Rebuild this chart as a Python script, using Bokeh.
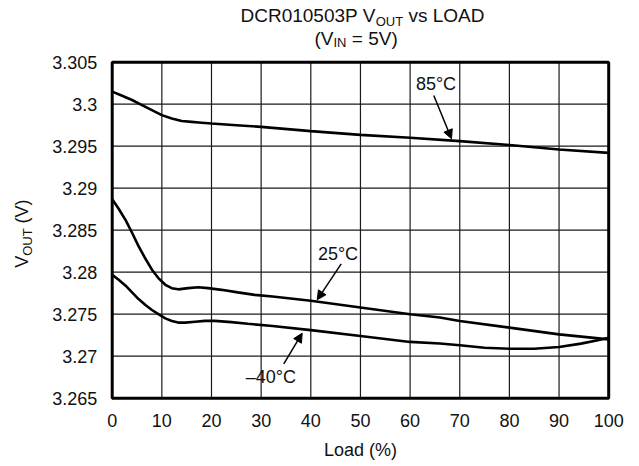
import math
from bokeh.plotting import figure
from bokeh.models import Range1d, FixedTicker, Label, Arrow, NormalHead, LinearAxis
from bokeh.embed import file_html
from bokeh.resources import INLINE

# ---- data ----
x_85 = [0, 2, 4, 6, 8, 10, 12, 14, 16, 18, 20, 25, 30, 40, 50, 60, 70, 80, 90, 100]
y_85 = [3.3015, 3.3010, 3.3005, 3.2999, 3.2993, 3.2987, 3.2983, 3.2980, 3.2979, 3.2978,
        3.2977, 3.2975, 3.2973, 3.2968, 3.29635, 3.2960, 3.2956, 3.29515, 3.2946, 3.2942]

x_25 = [0, 1.3, 2.7, 4, 5.3, 6.7, 8, 9.3, 10.7, 12, 13.3, 15.3, 17.3, 19.3, 22, 25.3,
        28.7, 32.3, 40, 50, 60, 66, 70, 80, 90, 100]
y_25 = [3.2887, 3.28755, 3.2862, 3.2847, 3.2831, 3.2816, 3.2803, 3.2793, 3.2785, 3.2781,
        3.27796, 3.2781, 3.2782, 3.2781, 3.2779, 3.2776, 3.2773, 3.2771, 3.2766, 3.2758,
        3.2750, 3.2746, 3.2742, 3.2734, 3.2726, 3.2720]

x_m40 = [0, 1.3, 2.7, 4, 5.3, 6.7, 8, 9.3, 10.7, 12, 13.3, 14.7, 16.7, 18.7, 20.7, 24,
         27.3, 32.3, 40, 50, 60, 66, 70, 75, 80, 85, 90, 94.4, 97.8, 100]
y_m40 = [3.2797, 3.2791, 3.2784, 3.2776, 3.2768, 3.2761, 3.2755, 3.2750, 3.2745, 3.2742,
         3.2740, 3.2740, 3.2741, 3.2742, 3.2742, 3.27406, 3.27386, 3.2736, 3.2731, 3.2724,
         3.2717, 3.27152, 3.2713, 3.2710, 3.27088, 3.27088, 3.2711, 3.2715, 3.2719, 3.2722]

x_ticks = [0, 10, 20, 30, 40, 50, 60, 70, 80, 90, 100]
y_ticks = [3.265, 3.27, 3.275, 3.28, 3.285, 3.29, 3.295, 3.3, 3.305]
y_tick_labels = ["3.265", "3.27", "3.275", "3.28", "3.285", "3.29", "3.295", "3.3", "3.305"]

FONT = "Liberation Sans"
TXT = "#111111"

# ---- layout: the frame covers the whole canvas; the plot box sits inside it ----
W, H = 631, 464
BOX_L, BOX_R, BOX_T, BOX_B = 111.7, 608.2, 61.7, 397.7   # plot box in pixels
xmin, xmax = x_ticks[0], x_ticks[-1]
ymin, ymax = y_ticks[0], y_ticks[-1]
kx = (BOX_R - BOX_L) / (xmax - xmin)
ky = (BOX_B - BOX_T) / (ymax - ymin)

def dx(px):
    return xmin + (px - BOX_L) / kx

def dy(py):
    return ymax - (py - BOX_T) / ky

p = figure(frame_width=W, frame_height=H, min_border=0,
           x_range=Range1d(dx(0), dx(W)), y_range=Range1d(dy(H), dy(0)),
           x_axis_location=None, y_axis_location=None,
           output_backend="svg", toolbar_location=None, title=None)
p.outline_line_color = None
p.background_fill_color = "white"
p.border_fill_color = "white"
p.xgrid.visible = False
p.ygrid.visible = False

# grid lines at the tick values
p.segment(x0=x_ticks, x1=x_ticks, y0=[ymin] * len(x_ticks), y1=[ymax] * len(x_ticks),
          line_color="#1a1a1a", line_width=1.2)
p.segment(x0=[xmin] * len(y_ticks), x1=[xmax] * len(y_ticks), y0=y_ticks, y1=y_ticks,
          line_color="#1a1a1a", line_width=1.2)

# axes fixed at the plot box edges
xaxis = LinearAxis(fixed_location=ymin, bounds=(xmin, xmax), ticker=FixedTicker(ticks=x_ticks))
yaxis = LinearAxis(fixed_location=xmin, bounds=(ymin, ymax), ticker=FixedTicker(ticks=y_ticks))
yaxis.major_label_overrides = dict(zip(y_ticks, y_tick_labels))
xaxis.major_label_standoff = 16
yaxis.major_label_standoff = 15
for ax in (xaxis, yaxis):
    ax.axis_line_color = None
    ax.major_tick_in = 0
    ax.major_tick_out = 0
    ax.minor_tick_line_color = None
    ax.major_label_text_font = FONT
    ax.major_label_text_font_size = "18px"
    ax.major_label_text_color = TXT
p.add_layout(xaxis, "below")
p.add_layout(yaxis, "left")

# curves
for xs, ys in ((x_85, y_85), (x_25, y_25), (x_m40, y_m40)):
    p.line(xs, ys, line_color="black", line_width=2.6)

# plot box border
p.quad(left=[xmin], right=[xmax], bottom=[ymin], top=[ymax],
       fill_color=None, line_color="black", line_width=3)

def lab(px, py, text, size="18px", align="left", angle=0.0):
    # (px, py): left/centre of the text and the middle of its capitals, in pixels
    p.add_layout(Label(x=dx(px), y=dy(py), text=text, text_font=FONT, text_font_size=size,
                       text_color=TXT, text_align=align, text_baseline="middle",
                       angle=angle))

# title (two lines with subscripts)
lab(240.0, 15.0, "DCR010503P V", "19px")
lab(375.2, 21.3, "OUT", "13px")
lab(407.9, 15.0, "vs LOAD", "19px")
lab(314.0, 37.5, "(V", "19px")
lab(333.0, 42.2, "IN", "13px")
lab(351.3, 37.5, "= 5V)", "19px")

# y-axis label (rotated, with subscript)
lab(21.3, 267.3, "V", "18px", angle=math.pi / 2)
lab(26.7, 255.3, "OUT", "13px", angle=math.pi / 2)
lab(21.3, 222.9, "(V)", "18px", angle=math.pi / 2)

# x-axis label
lab(360.0, 449.7, "Load (%)", "18px", align="center")

# curve labels and arrows
lab(435.5, 83.3, "85°C", align="center")
lab(337.5, 253.7, "25°C", align="center")
lab(270.4, 376.0, "–40°C", align="center")

for (ax0, ay0, ax1, ay1) in ((433.3, 95.0, 451.0, 138.3),
                             (340.7, 263.3, 316.7, 299.3),
                             (283.3, 363.3, 301.7, 332.7)):
    p.add_layout(Arrow(x_start=dx(ax0), y_start=dy(ay0), x_end=dx(ax1), y_end=dy(ay1),
                       line_color="black", line_width=1.5,
                       end=NormalHead(size=9, fill_color="black", line_color="black")))

open("out.html", "w").write(file_html(p, INLINE))
